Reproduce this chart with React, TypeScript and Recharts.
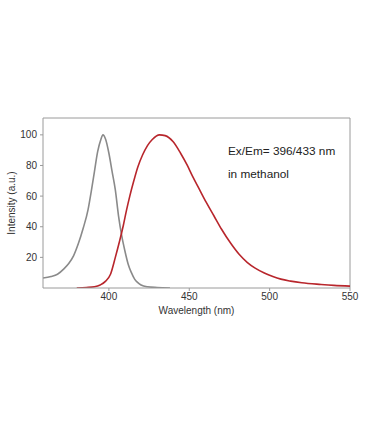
import React from "react";
import { LineChart, Line, XAxis, YAxis, ReferenceLine } from "recharts";

const exWavelengths = [359, 364, 368, 372, 375, 378, 381, 384, 387, 389, 391, 393, 395, 396.3, 398, 400, 402, 404, 406, 408, 410, 412, 414, 416, 418, 420, 424, 430, 438];
const exValues = [6.5, 7.5, 9, 12.5, 16, 21, 29, 39, 51, 63, 76, 89, 97, 100, 97, 88, 76, 64, 47, 34, 24, 15.5, 10, 5.8, 3.5, 2, 0.8, 0.3, 0];

const emWavelengths = [380, 386, 391, 394.6, 398, 401, 404, 406.5, 409, 411, 413, 415.5, 418, 421, 424, 427, 431.5, 435, 440, 444.6, 448.8, 452, 456, 460.5, 465.4, 470, 475.9, 481, 486, 491, 496.7, 502, 507, 513, 520, 532, 540, 550];
const emValues = [0, 0.3, 0.8, 2, 4.5, 9, 20, 30, 41, 51, 60, 70, 79, 87, 93, 97, 100, 99.5, 95.5, 88, 80, 73, 65, 56, 47, 38.5, 29, 22, 16.8, 13, 9.8, 7.5, 5.8, 4.5, 3.4, 2.3, 1.7, 1.2];

const xTicks = [400, 450, 500, 550];
const yTicks = [20, 40, 60, 80, 100];

const exData = exWavelengths.map((w, i) => ({ w, v: exValues[i] }));
const emData = emWavelengths.map((w, i) => ({ w, v: emValues[i] }));

const font = "'Liberation Sans', Arial, sans-serif";
const frame = "#9a9a9a";

export default function App() {
  return (
    <div style={{ position: "absolute", left: 0, top: 0, width: 369, height: 421, background: "#fff", fontFamily: font }}>
      <LineChart width={369} height={421} margin={{ top: 118, right: 19, bottom: 103, left: 0 }}>
        <XAxis
          dataKey="w"
          type="number"
          domain={[359, 550]}
          ticks={xTicks}
          allowDataOverflow
          stroke={frame}
          tick={{ fill: "#333", fontSize: 10, fontFamily: font }}
          tickSize={3}
          tickMargin={2}
          height={30}
          label={{ value: "Wavelength (nm)", position: "insideBottom", offset: 4, fill: "#333", fontSize: 10, fontFamily: font }}
        />
        <YAxis
          type="number"
          domain={[0, 111]}
          ticks={yTicks}
          allowDataOverflow
          stroke={frame}
          tick={{ fill: "#333", fontSize: 10, fontFamily: font }}
          tickSize={3}
          tickMargin={3}
          width={43}
          label={{ value: "Intensity (a.u.)", angle: -90, position: "insideLeft", offset: 11, style: { textAnchor: "middle" }, fill: "#333", fontSize: 10, fontFamily: font }}
        />
        <ReferenceLine y={111} stroke={frame} ifOverflow="extendDomain" />
        <ReferenceLine x={550} stroke={frame} ifOverflow="extendDomain" />
        <Line data={exData} dataKey="v" type="monotone" stroke="#8a8a8a" strokeWidth={1.6} dot={false} isAnimationActive={false} />
        <Line data={emData} dataKey="v" type="monotone" stroke="#b8262c" strokeWidth={1.6} dot={false} isAnimationActive={false} />
      </LineChart>
      <div style={{ position: "absolute", left: 228, top: 140, fontSize: 11.8, color: "#222", lineHeight: "23px", whiteSpace: "nowrap" }}>
        <div>Ex/Em= 396/433 nm</div>
        <div>in methanol</div>
      </div>
    </div>
  );
}
